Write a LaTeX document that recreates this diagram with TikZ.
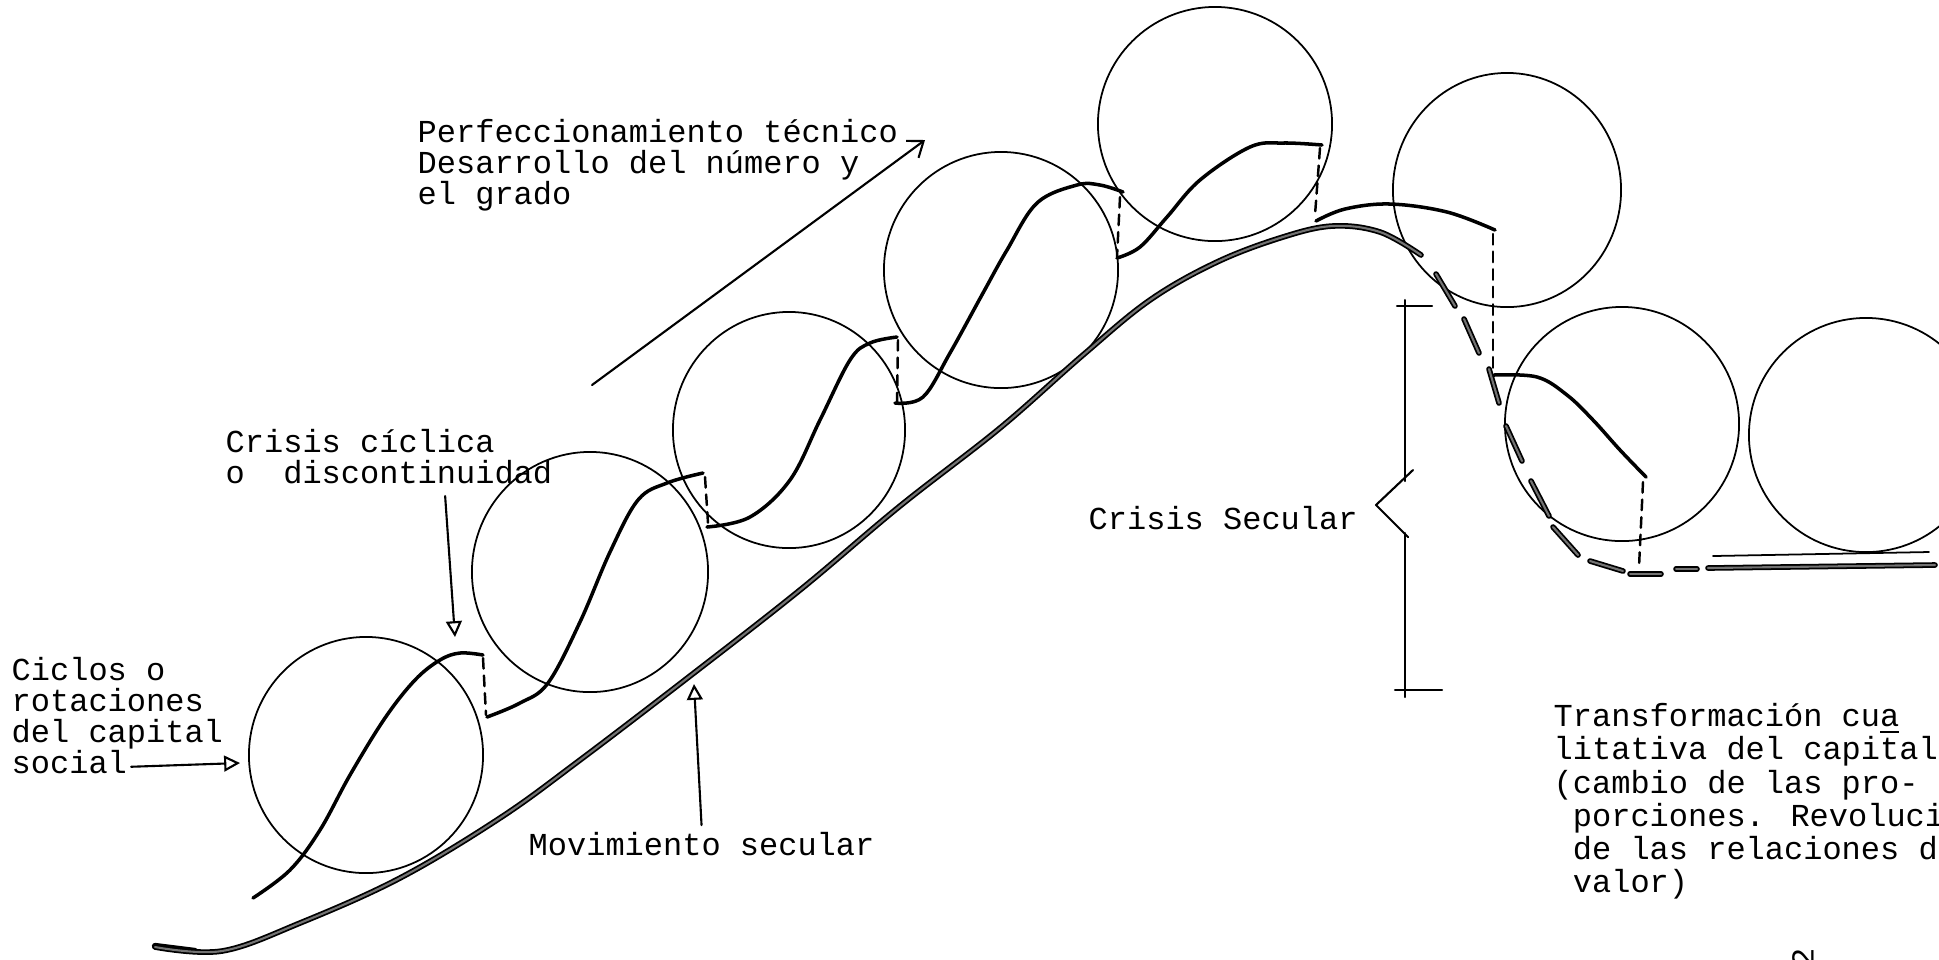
\documentclass[tikz,border=0pt]{standalone}
\usepackage{fontspec}
\newfontfamily\typewriter{Liberation Mono}
\usetikzlibrary{arrows.meta}

\begin{document}
\begin{tikzpicture}[x=0.01cm,y=-0.01cm,line cap=round,line join=round,
  circ/.style={line width=0.5pt},
  wave/.style={line width=1pt},
  gap/.style={line width=0.7pt,dash pattern=on 3pt off 2pt},
  secular/.style={draw=black,double=black!55,double distance=0.6pt,line width=0.5pt},
  typed/.style={font=\typewriter\fontsize{9.1pt}{8.8pt}\selectfont,align=left,inner sep=0pt},
  pointer/.style={line width=0.6pt,-{Triangle[open,length=4.5pt,width=4.5pt]}}]
  \clip (0,0) rectangle (1939,959);

  % ciclos del capital
  \draw[circ] (366,755) ellipse [x radius=1.17cm, y radius=1.18cm];
  \draw[circ] (590,572) ellipse [x radius=1.18cm, y radius=1.20cm];
  \draw[circ] (789,430) ellipse [x radius=1.16cm, y radius=1.18cm];
  \draw[circ] (1001,270) ellipse [x radius=1.17cm, y radius=1.18cm];
  \draw[circ] (1215,124) ellipse [x radius=1.17cm, y radius=1.17cm];
  \draw[circ] (1507,190) ellipse [x radius=1.14cm, y radius=1.17cm];
  \draw[circ] (1622,424) ellipse [x radius=1.17cm, y radius=1.17cm];
  \draw[circ] (1866,435) ellipse [x radius=1.17cm, y radius=1.17cm];

  % curvas de cada rotacion
  \draw[wave] plot[smooth,tension=0.6] coordinates {(253,898) (290,870) (320,830) (350,775) (385,718) (415,680) (440,660) (460,653) (483,655)};
  \draw[gap] (483,658) -- (486,715);
  \draw[wave] plot[smooth,tension=0.6] coordinates {(487,717) (520,703) (548,683) (580,622) (610,552) (638,500) (667,483) (703,473)};
  \draw[gap] (705,477) -- (708,523);
  \draw[wave] plot[smooth,tension=0.6] coordinates {(707,527) (750,517) (790,480) (820,420) (850,360) (870,343) (897,337)};
  \draw[gap] (898,340) -- (897,403);
  \draw[wave] plot[smooth,tension=0.6] coordinates {(895,403) (923,397) (950,353) (983,293) (1007,250) (1037,203) (1077,185) (1100,185) (1123,192)};
  \draw[gap] (1120,197) -- (1117,257);
  \draw[wave] plot[smooth,tension=0.6] coordinates {(1117,258) (1140,247) (1167,217) (1200,180) (1250,147) (1283,143) (1322,145)};
  \draw[gap] (1320,148) -- (1315,215);
  \draw[wave] plot[smooth,tension=0.6] coordinates {(1316,221) (1345,209) (1390,204) (1447,212) (1495,230)};
  \draw[gap] (1493,234) -- (1493,372);
  \draw[wave] plot[smooth,tension=0.6] coordinates {(1494,375) (1537,377) (1567,395) (1593,420) (1620,450) (1646,477)};
  \draw[gap] (1643,482) -- (1639,567);
  \draw[circ] (1713,556) -- (1929,552);

  % movimiento secular
  \draw[line width=1.8pt] (155,946) -- (195,951);
  \draw[secular] plot[smooth,tension=0.6] coordinates {(155,947) (222,951) (300,923) (400,878) (500,818) (580,760) (690,676) (800,590) (900,506) (1000,428) (1083,355) (1150,300) (1217,262) (1283,237) (1333,226) (1380,232) (1421,255)};
  \draw[secular] (1436,274) -- (1455,306);
  \draw[secular] (1464,319) -- (1479,353);
  \draw[secular] (1489,369) -- (1499,403);
  \draw[secular] (1506,426) -- (1522,461);
  \draw[secular] (1531,481) -- (1549,516);
  \draw[secular] (1553,527) -- (1578,555);
  \draw[secular] (1590,561) -- (1623,571);
  \draw[secular] (1630,574) -- (1661,574);
  \draw[secular] (1676,569) -- (1697,569);
  \draw[secular] (1708,568) -- (1935,565);

  % textos
  \node[typed,anchor=north west] (perf) at (417,119)
    {Perfeccionamiento técnico\\Desarrollo del número y\\el grado};
  \node[typed,anchor=north west] (cicl) at (225,429)
    {Crisis cíclica\\o~~discontinuidad};
  \node[typed,anchor=north west] (ciclos) at (11,657)
    {Ciclos o\\rotaciones\\del capital\\social};
  \node[typed,anchor=base west] (mov) at (528,855) {Movimiento secular};
  \node[typed,anchor=base west] (crsec) at (1088,529) {Crisis Secular};
  \node[typed,anchor=north west,font=\typewriter\fontsize{9.1pt}{9.4pt}\selectfont] (transf) at (1553,703)
    {Transformación cu\underline{a}\\litativa del capital\\(cambio de las pro-\\~porciones. Revolución\\~de las relaciones de\\~valor)};
  \node[typed,rotate=90] (pag) at (1803,958) {2};

  % flechas
  \coordinate (perfA) at (592,385);
  \coordinate (perfB) at (925,140);
  \draw[line width=0.6pt,-{Straight Barb[length=4pt,width=6pt]}] (perfA) -- (perfB);
  \coordinate (cictip) at (455,637);
  \draw[pointer] ([xshift=2.2cm,yshift=-0.11cm]cicl.south west) -- (cictip);
  \coordinate (soctip) at (240,763);
  \draw[pointer] ([xshift=1.2cm,yshift=0.08cm]ciclos.south west) -- (soctip);
  \coordinate (movtip) at (694,684);
  \draw[pointer] ([yshift=0.06cm]mov.north) -- (movtip);

  % llave de la crisis secular
  \draw[line width=0.6pt] (1405,300) -- (1405,481);
  \draw[line width=0.6pt] (1413,470) -- (1376,505) -- (1408,537);
  \draw[line width=0.6pt] (1405,533) -- (1405,697);
  \draw[line width=0.6pt] (1397,306) -- (1432,306);
  \draw[line width=0.6pt] (1395,690) -- (1442,690);
\end{tikzpicture}
\end{document}
